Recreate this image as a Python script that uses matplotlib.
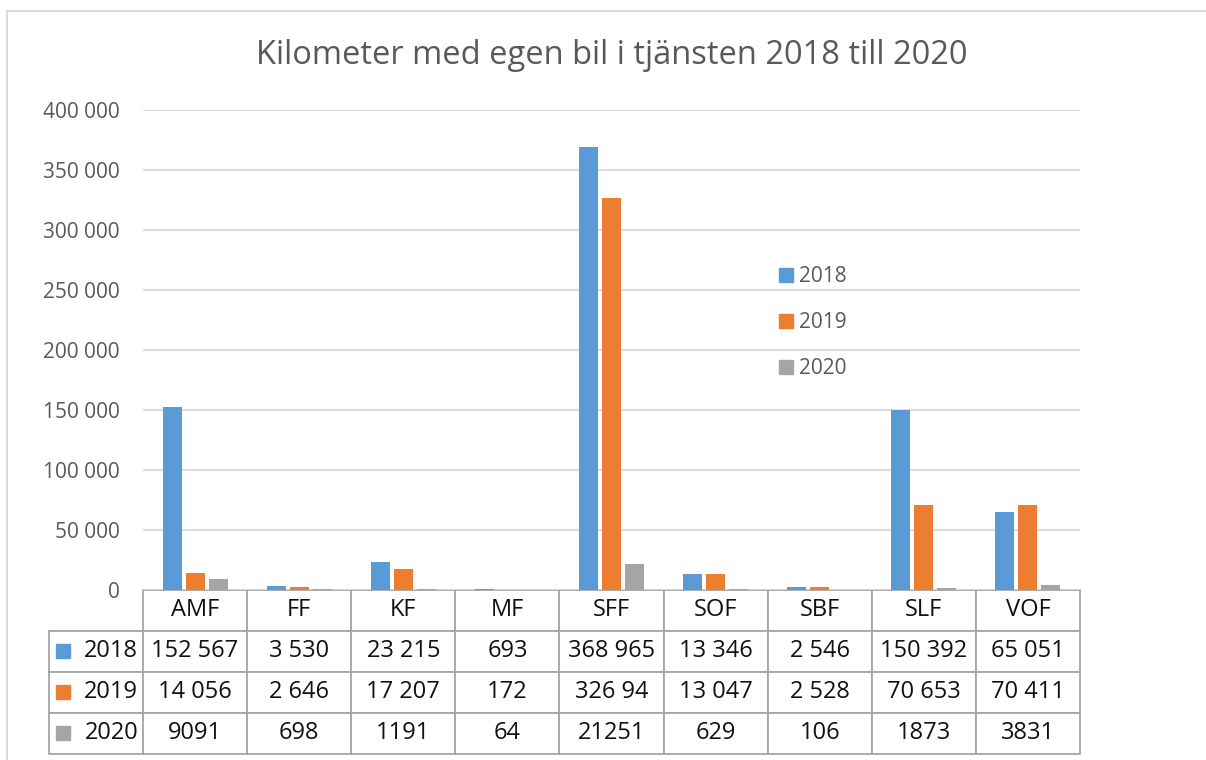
import numpy as np
import matplotlib.pyplot as plt
from matplotlib.ticker import FuncFormatter
from matplotlib.patches import Rectangle, Patch

plt.rcParams['font.family'] = ['Open Sans', 'DejaVu Sans']

# data
categories = ["AMF", "FF", "KF", "MF", "SFF", "SOF", "SBF", "SLF", "VOF"]
years = ["2018", "2019", "2020"]
km_2018 = [152567, 3530, 23215, 693, 368965, 13346, 2546, 150392, 65051]
km_2019 = [14056, 2646, 17207, 172, 326940, 13047, 2528, 70653, 70411]
km_2020 = [9091, 698, 1191, 64, 21251, 629, 106, 1873, 3831]

# text as shown in the data table
text_2018 = ["152 567", "3 530", "23 215", "693", "368 965", "13 346", "2 546", "150 392", "65 051"]
text_2019 = ["14 056", "2 646", "17 207", "172", "326 94", "13 047", "2 528", "70 653", "70 411"]
text_2020 = ["9091", "698", "1191", "64", "21251", "629", "106", "1873", "3831"]

colors = ["#5B9BD5", "#ED7D31", "#A5A5A5"]
grey_text = "#595959"

fig = plt.figure(figsize=(12.06, 7.6), dpi=100)
ax = fig.add_axes([0.1186, 0.2237, 0.7769, 0.6316])

x = np.arange(len(categories))
offsets = [-0.221, 0, 0.221]
series = [km_2018, km_2019, km_2020]
for vals, off, col, yr in zip(series, offsets, colors, years):
    ax.bar(x + off, vals, width=0.183, color=col, label=yr, zorder=3)

ax.set_xlim(-0.5, len(categories) - 0.5)
ax.set_ylim(0, 400000)
ax.set_yticks(np.arange(0, 400001, 50000))
ax.yaxis.set_major_formatter(FuncFormatter(lambda v, p: f"{int(v):,}".replace(",", " ")))
ax.tick_params(axis='y', length=0, pad=17, labelsize=15, labelcolor=grey_text)
ax.set_xticks([])
ax.grid(axis='y', color='#D9D9D9', linewidth=1.3, zorder=0)
for s in ax.spines.values():
    s.set_visible(False)

# data table under the chart (first column holds the year labels)
tbl_h = 164 / 480
lab_w = 94 / 937
rows = [[yr] + t for yr, t in zip(years, [text_2018, text_2019, text_2020])]
tbl = ax.table(cellText=rows, colLabels=[""] + categories, cellLoc='center',
               colWidths=[lab_w] + [1 / len(categories)] * len(categories),
               bbox=[-lab_w, -tbl_h, 1 + lab_w, tbl_h])
tbl.auto_set_font_size(False)
tbl.set_fontsize(17)
for (r, c), cell in tbl.get_celld().items():
    cell.set_edgecolor('#A6A6A6')
    cell.set_linewidth(1.3)
    cell.get_text().set_color('#111111')
    if c == 0:
        cell.get_text().set_ha('right')
        cell.PAD = 0.05
        if r == 0:
            cell.visible_edges = 'B'

# coloured keys in the row labels
row_h = tbl_h / 4
for i, col in enumerate(colors):
    yc = -row_h * (i + 1.5)
    ax.add_patch(Rectangle((-87 / 937, yc - 7 / 480), 14 / 937, 14 / 480,
                           transform=ax.transAxes, color=col, clip_on=False, zorder=5))

handles = [Patch(color=c) for c in colors]
ax.legend(handles, years, loc='upper left', bbox_to_anchor=(779 / 1206, 1 - 266 / 760),
          bbox_transform=fig.transFigure, frameon=False, fontsize=15,
          labelcolor=grey_text, handlelength=0.65, handleheight=0.65,
          handletextpad=0.3, labelspacing=1.2, borderpad=0, borderaxespad=0)

fig.text(0.5075, 1 - 55 / 760, "Kilometer med egen bil i tjänsten 2018 till 2020",
         ha='center', va='center', fontsize=23.5, color=grey_text)

# chart border
fig.patches.append(Rectangle((7 / 1206, -0.02), 1.05, 0.02 + 1 - 11 / 760,
                             transform=fig.transFigure, fill=False,
                             edgecolor='#D9D9D9', linewidth=1.5))

fig.savefig("out.png", dpi=100)
